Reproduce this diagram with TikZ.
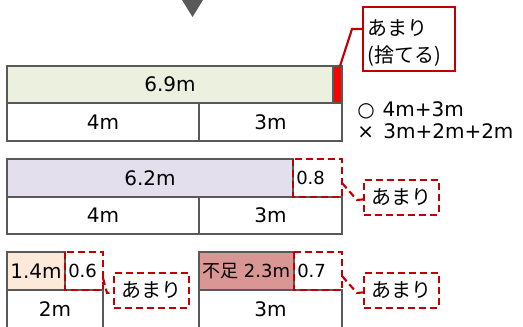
\documentclass[tikz,border=0pt]{standalone}
\usepackage{fontspec}
\setmainfont{DejaVu Sans}
\newfontfamily\jpfont{Noto Sans CJK JP}
\definecolor{barGreen}{HTML}{EBF1DE}
\definecolor{barPurple}{HTML}{E4DFEC}
\definecolor{barPeach}{HTML}{FDE9D9}
\definecolor{barShort}{HTML}{DA9694}
\definecolor{noteRed}{HTML}{C00000}
\definecolor{edgeGray}{HTML}{595959}

\begin{document}
\begin{tikzpicture}[x=0.75pt, y=-0.75pt,
    cell/.style={draw=edgeGray, line width=0.9pt},
    len/.style={inner sep=0pt, font=\fontsize{15}{18}\selectfont},
    rest/.style={inner sep=0pt, anchor=west, font=\fontsize{13.5}{16}\selectfont},
    spare/.style={draw=noteRed, line width=1.6pt, dash pattern=on 5.25pt off 3pt},
    note/.style={spare, fill=white, anchor=north west, minimum width=56pt, minimum height=26pt,
                 inner sep=0pt, font=\jpfont\fontsize{15}{20}\selectfont},
    lead/.style={draw=noteRed, line width=1.6pt}]
			%%%%% START %%%%%
			\useasboundingbox (0, 0) rectangle (523, 327);
			
			\fill[edgeGray] (182, 0) -- (203, 0) -- (192.5, 17) -- cycle;
			
			% bar 6.9m
			\draw[cell, fill=barGreen] (7, 66) rectangle (333, 103) node[midway, len] (len1) {6.9m};
			\draw[cell, fill=red] (333, 66) rectangle (342, 103);
			\coordinate (cut1) at (340, 66);
			\draw[cell] (7, 103) rectangle (199, 141) node[midway, len] (a1) {4m};
			\draw[cell] (199, 103) rectangle (342, 141) node[midway, len] (b1) {3m};
			
			\node[draw=noteRed, line width=1.6pt, fill=white, anchor=north west, align=left,
			      text width=62pt, inner xsep=3.5pt, minimum height=46.5pt,
			      font=\jpfont\fontsize{15}{20.25}\selectfont] (note1) at (362, 6) {\rule{0pt}{18pt}あまり\\(捨てる)};
			\coordinate (bend1) at (352, 29);
			\draw[lead] (cut1) -- (bend1) -- (bend1 -| note1.west);
			
			\node[len, anchor=west] (ok) at (357, 110.5) {○\hspace{6pt}4m+3m};
			\node[len, anchor=west] (ng) at (357, 131.5) {×\hspace{7pt}3m+2m+2m};
			
			% bar 6.2m
			\draw[cell, fill=barPurple] (7, 159) rectangle (293, 197) node[midway, len] (len2) {6.2m};
			\draw[cell] (7, 197) rectangle (199, 234) node[midway, len] (a2) {4m};
			\draw[cell] (199, 197) rectangle (342, 234) node[midway, len] (b2) {3m};
			\draw[spare] (293, 159) rectangle (342, 197);
			\node[rest] (rest2) at (296, 178) {0.8};
			
			\node[note] (note2) at (363, 179) {あまり};
			\coordinate (from2) at (342, 183);
			\coordinate (bend2) at (357, 200);
			\draw[spare] (from2) -- (bend2) -- ([yshift=-1.5pt]note2.west);
			
			% bar 1.4m
			\draw[cell, fill=barPeach] (7, 252) rectangle (65, 290) node[midway, len] (len3) {1.4m};
			\draw[cell] (7, 290) rectangle (103, 328) node[midway, len] (a3) {2m};
			\draw[spare] (65, 252) rectangle (103, 290);
			\node[rest] (rest3) at (68, 271) {0.6};
			
			\node[note] (note3) at (113, 272) {あまり};
			\coordinate (from3) at (103, 278);
			\coordinate (bend3) at (107, 293);
			\draw[spare] (from3) -- (bend3) -- ([yshift=-1.5pt]note3.west);
			
			% bar 2.3m
			\draw[cell, fill=barShort] (199, 252) rectangle (294, 290);
			\node[rest] (len4) at (202, 271) {{\jpfont 不足} 2.3m};
			\draw[cell] (199, 290) rectangle (342, 328) node[midway, len] (b4) {3m};
			\draw[spare] (294, 252) rectangle (342, 290);
			\node[rest] (rest4) at (297, 271) {0.7};
			
			\node[note] (note4) at (363, 272) {あまり};
			\coordinate (from4) at (342, 276);
			\coordinate (bend4) at (357, 293);
			\draw[spare] (from4) -- (bend4) -- ([yshift=-1.5pt]note4.west);
			
			%%%%% END %%%%%
		\end{tikzpicture}
\end{document}
